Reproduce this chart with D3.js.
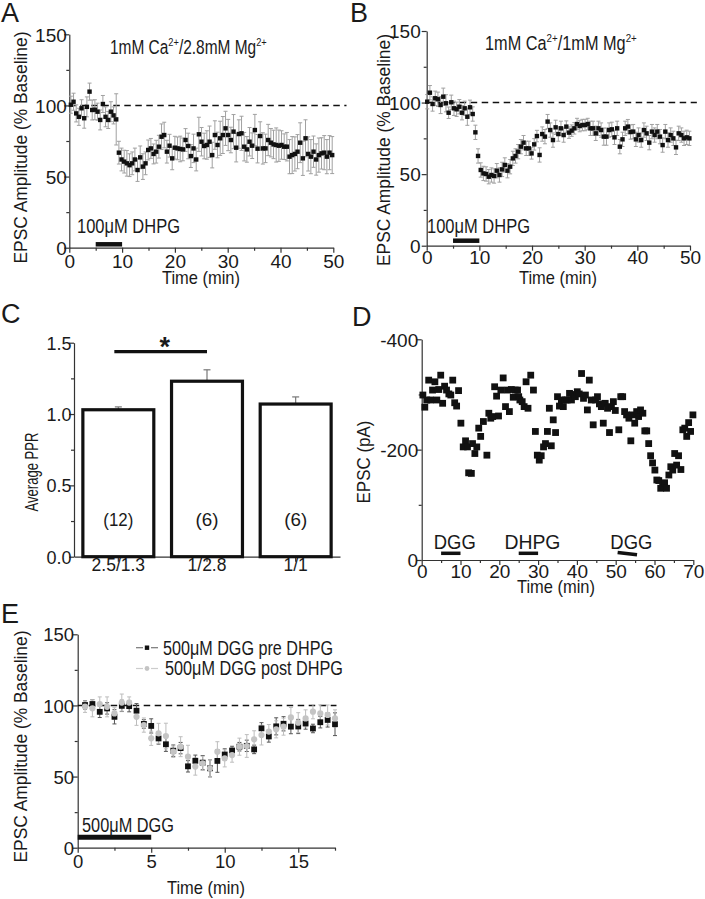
<!DOCTYPE html>
<html><head><meta charset="utf-8">
<script src="https://cdn.jsdelivr.net/npm/d3@7"></script>
<style>
body{margin:0;background:#fff}
svg{display:block}
text{font-family:"Liberation Sans",Arial,Helvetica,sans-serif}
</style></head>
<body><svg id="c" width="705" height="899"></svg>
<script>
// ---------------- DATA ----------------
// Panel A: 1mM Ca2+/2.8mM Mg2+ (mean, SEM), sampled every ~0.5 min
const aValues = [100.5,102.6,94.4,92,98,91,99,109.7,96.8,97,
 95.6,89.8,101,92,89.8,95.6,93,90.2,66.8,62,
 60.5,59.3,58,59.3,62,54.6,63.5,57,59.3,68.7,
 69.8,65.9,67.5,71,78,79.2,67.5,71.7,62.8,70.3,
 69.8,69.4,69.1,75.7,71.5,64.4,69.8,62,79.7,74.5,
 71.5,72.2,74.5,65.1,79.2,72.2,76.9,79.2,83.9,79.2,
 75.7,81.6,70.3,79.9,80.4,71,69.1,74.5,71.7,82.7,
 69.6,78.5,69.8,69.8,75.7,73.8,72.6,72.2,71.7,72.2,
 71,71,64,65.1,65.9,67.5,73.8,62.8,76.9,65.9,
 64,67.5,62,65.1,66.3,66.8,64,66.8,65.1];
const aErrors = [6,6,6,6,6,7,7,6,7,7,6,7,6,7,6,7,6,18,
 8,8,8,9,8,8,8,8,8,9,8,7,
 7,7,8,8,9,9,8,8,8,8,
 8,9,8,8,9,8,10,8,12,10,
 9,10,11,9,10,9,12,13,12,11,
 9,12,10,10,12,10,9,10,9,11,
 10,10,11,10,11,10,10,12,11,10,
 9,10,12,13,12,12,14,12,13,12,
 12,11,11,12,11,12,12,12,13];
// Panel B: 1mM Ca2+/1mM Mg2+
const bValues = [100.6,106.9,99,103,102.3,98.3,104.1,99.5,92.9,100.2,
 96,95.3,97.1,92.9,96,90.1,96.7,92,79.2,62.7,
 52.9,50.5,50.1,48.2,49.4,48.7,52.4,49.4,53.3,56.4,
 52.4,55.2,61,62.7,65.7,69.2,72,68,68,64.5,
 70.8,76.6,63.4,78,76.2,86.7,80.8,73.8,82.7,78,
 82,77.3,83.2,79,80.4,82,85,83.6,84.3,84.3,
 85,82,82,78.5,82,80.8,76.2,76.2,80.8,81.3,
 75.7,82,69.2,74.3,82,83.2,79.4,79.7,74.3,77.3,
 73.8,80.8,78.5,72,79.7,77.3,79.7,76.2,70.3,79.7,
 73.8,77.3,75,68.7,78.5,77.3,75,75.7,75];
const bErrors = [5,5,5,5,5,6,6,6,4,5,5,5,5,5,5,6,5,5,5,5,
 5,5,5,5,5,5,5,5,5,5,5,5,5,5,5,5,5,5,5,4,
 4,4,5,5,5,5,5,5,5,5,5,5,4,4,4,4,4,4,4,4,
 4,5,5,5,5,5,6,6,5,5,5,5,5,5,5,5,5,5,5,5,
 5,5,5,5,5,5,5,5,5,5,5,5,5,5,5,5,5,5,5];
// Panel C: average paired-pulse ratio
const cCategories = ["2.5/1.3","1/2.8","1/1"];
const cValues = [1.03,1.23,1.07];
const cErrors = [0.02,0.08,0.05];
const cN = ["(12)","(6)","(6)"];
// Panel D: single-cell EPSC time course
const dTime = [0.3,0.8,1.3,1.8,2.3,2.8,3.4,3.9,4.4,4.9,
 5.4,5.9,6.4,7.0,7.5,8.0,8.5,9.0,9.5,10.1,
 10.7,11.3,11.8,12.1,12.8,13.1,13.7,14.2,14.7,15.2,
 15.9,16.8,17.3,17.8,18.3,18.8,19.3,19.8,20.4,21.0,
 21.6,22.1,22.6,23.1,23.6,24.1,24.7,25.0,25.3,25.9,
 26.4,26.9,27.4,28.1,28.8,29.3,29.8,30.3,30.8,31.4,
 31.9,32.4,32.9,33.4,33.9,34.5,35.0,35.5,36.0,36.5,
 37.0,37.5,38.1,38.6,39.1,39.6,40.1,40.6,41.2,41.7,
 42.2,42.7,43.2,43.7,44.2,44.8,45.3,45.8,46.3,46.8,
 47.3,47.9,48.4,48.9,49.4,49.9,50.8,51.3,51.8,52.3,
 52.8,53.4,53.9,54.4,54.9,55.4,55.9,56.4,57.0,57.5,
 58.0,58.5,59.0,59.5,60.1,60.6,61.1,61.6,62.1,62.6,
 63.1,63.7,64.2,64.7,65.2,65.7,66.2,66.8,67.3,67.8,
 68.3,68.8,69.3,69.9];
const dEPSC = [-299,-277,-290,-326,-290,-308,-323,-290,-309,-335,
 -284,-315,-308,-301,-299,-326,-285,-279,-307,-248,
 -205,-216,-205,-158,-157,-211,-193,-205,-239,-224,
 -251,-190,-266,-257,-260,-314,-297,-261,-308,-330,
 -278,-308,-269,-309,-295,-308,-308,-296,-290,-287,
 -278,-323,-275,-335,-308,-233,-190,-181,-189,-205,
 -211,-233,-275,-207,-254,-231,-296,-279,-290,-278,
 -290,-290,-302,-290,-300,-296,-305,-301,-338,-293,
 -299,-272,-326,-290,-245,-290,-296,-283,-278,-248,
 -284,-275,-231,-278,-287,-271,-236,-296,-296,-269,
 -263,-257,-216,-263,-248,-269,-260,-272,-266,-234,
 -234,-211,-189,-176,-163,-145,-144,-130,-133,-140,
 -130,-154,-169,-163,-193,-172,-189,-164,-236,-239,
 -224,-249,-233,-263];
const dDrugs = [{label:"DGG",start:5,end:10},{label:"DHPG",start:25,end:30},{label:"DGG",start:50.5,end:55.5}];
// Panel E: 500uM DGG pre / post DHPG
const eSeries = ["500\u03bcM DGG pre DHPG","500\u03bcM DGG post DHPG"];
const ePre = [100.3,101,95.5,97.9,92,99.7,99.5,96.3,87,85.6,
 76.8,72.7,68.2,70,57.2,61.1,59.8,55.8,61,65.5,
 68.3,71,71.6,69.1,83.9,78.2,85.3,87.1,85.1,85.2,
 87.3,83.8,88.2,89.8,86.8];
const ePreErr = [3,3,4,4,5,4,4,5,3,5,4,5,4,4,4,4,5,6,8,4,3,3,4,3,4,4,6,5,5,5,4,3,4,5,8];
const ePost = [99.1,98,101,99,94.4,102,102,92,86.2,76.9,
 80.4,78.5,67.5,71,64,57,59.3,55.8,67.5,62.8,
 65.1,71,71.5,76.2,79.2,81.6,83.2,85.1,91.6,87.9,
 90.9,95.6,94.4,93.3,90.9];
const ePostErr = [4,6,5,7,4,6,4,6,5,5,7,9,4,7,8,6,5,6,7,6,5,6,8,6,7,5,6,6,7,7,6,5,6,7,6];

const aTime = d3.range(aValues.length).map(i => 0.3 + i*0.505);
const bTime = d3.range(bValues.length).map(i => 0.1 + i*0.508);
const eTime = d3.range(ePre.length).map(i => 0.5 + i*0.5);

// ---------------- DRAWING ----------------
const svg = d3.select('#c');
const INK = '#1a1a1a';

function styleAxis(g, fs) {
  g.select('.domain').attr('stroke', '#333').attr('stroke-width', 1.2);
  g.selectAll('.tick line').attr('stroke', '#333').attr('stroke-width', 1.2);
  g.selectAll('.tick text').attr('fill', INK).attr('font-size', fs)
   .attr('font-family', '"Liberation Sans",Arial,sans-serif');
}
function axes(x, y, o) {
  const yb = y.range()[0], xl = x.range()[0];
  if (o.xMinor) svg.append('g').attr('transform', `translate(0,${yb})`)
    .call(d3.axisBottom(x).tickValues(o.xMinor).tickSize(3).tickFormat(''))
    .call(g => { g.select('.domain').remove(); styleAxis(g, o.fs); });
  if (o.yMinor) svg.append('g').attr('transform', `translate(${xl},0)`)
    .call(d3.axisLeft(y).tickValues(o.yMinor).tickSize(3).tickFormat(''))
    .call(g => { g.select('.domain').remove(); styleAxis(g, o.fs); });
  const gx = svg.append('g').attr('transform', `translate(0,${yb})`)
    .call(d3.axisBottom(x).tickValues(o.xMajor).tickSize(5).tickSizeOuter(0).tickFormat(o.xFmt || (d => d)));
  styleAxis(gx, o.xfs || o.fs);
  gx.selectAll('.tick text').attr('y', o.xTextY).attr('dy', 0);
  const gy = svg.append('g').attr('transform', `translate(${xl},0)`)
    .call(d3.axisLeft(y).tickValues(o.yMajor).tickSize(5).tickSizeOuter(0).tickFormat(o.yFmt || (d => d)));
  styleAxis(gy, o.fs);
  gy.selectAll('.tick text').attr('x', -o.yGap).attr('dy', '0.36em');
}
function label(x, y, txt, fs, opts = {}) {
  const t = svg.append('text').attr('x', x).attr('y', y).attr('font-size', fs).attr('fill', INK)
    .attr('text-anchor', opts.anchor || 'start').text(txt);
  if (opts.len) t.attr('textLength', opts.len).attr('lengthAdjust', 'spacingAndGlyphs');
  if (opts.rotate) t.attr('transform', `rotate(-90,${x},${y})`);
  if (opts.bold) t.attr('font-weight', 'bold');
  return t;
}
// title with superscripts, horizontally condensed to a target length
function ionTitle(x, y, parts, fs, len) {
  const t = svg.append('text').attr('x', 0).attr('y', 0).attr('font-size', fs).attr('fill', INK);
  parts.forEach(p => {
    if (p.sup) t.append('tspan').attr('dy', -fs*0.42).attr('font-size', fs*0.6).text(p.sup);
    else t.append('tspan').attr('dy', p.after ? fs*0.42 : 0).attr('font-size', fs).text(p.t);
  });
  const w = t.node().getBBox().width || len;
  t.attr('transform', `translate(${x},${y}) scale(${len / w},1)`);
}
function errorBars(x, y, t, v, e, color, cap) {
  const g = svg.append('g').attr('stroke', color).attr('stroke-width', 1);
  v.forEach((val, i) => {
    const cx = x(t[i]), y1 = y(val - e[i]), y2 = y(val + e[i]);
    g.append('line').attr('x1', cx).attr('x2', cx).attr('y1', y1).attr('y2', y2);
    g.append('line').attr('x1', cx - cap/2).attr('x2', cx + cap/2).attr('y1', y1).attr('y2', y1);
    g.append('line').attr('x1', cx - cap/2).attr('x2', cx + cap/2).attr('y1', y2).attr('y2', y2);
  });
}
function squares(x, y, t, v, s, color) {
  svg.append('g').selectAll('rect').data(v).join('rect')
    .attr('x', (d, i) => x(t[i]) - s/2).attr('y', d => y(d) - s/2)
    .attr('width', s).attr('height', s).attr('fill', color);
}
function dashed(x, y, x0, x1, v) {
  svg.append('line').attr('x1', x(x0)).attr('x2', x(x1)).attr('y1', y(v)).attr('y2', y(v))
    .attr('stroke', '#111').attr('stroke-width', 1.6).attr('stroke-dasharray', '6.5,4.5');
}
function drugBar(x, yy, a, b, w) {
  svg.append('line').attr('x1', x(a)).attr('x2', x(b)).attr('y1', yy).attr('y2', yy)
    .attr('stroke', '#111').attr('stroke-width', w);
}

// ----- Panel A -----
{
  const x = d3.scaleLinear().domain([0, 50]).range([69.3, 333.3]);
  const y = d3.scaleLinear().domain([0, 150]).range([247.7, 34.3]);
  axes(x, y, {xMajor: [0,10,20,30,40,50], xMinor: [5,15,25,35,45], yMajor: [0,50,100,150], yMinor: [25,75,125], fs: 19, xTextY: 20.5, yGap: 2.5});
  dashed(x, y, 0, 52.5, 100);
  errorBars(x, y, aTime, aValues, aErrors, '#a0a0a0', 4);
  squares(x, y, aTime, aValues, 4.4, '#111');
  drugBar(x, 244.3, 5, 10, 4.5);
  label(77, 233, '100\u03bcM DHPG', 20, {len: 103});
  ionTitle(110, 54, [{t:'1mM Ca'},{sup:'2+'},{t:'/2.8mM Mg', after:true},{sup:'2+'}], 19.5, 157);
  label(21, 147.5, 'EPSC Amplitude (% Baseline)', 18.5, {anchor:'middle', rotate:true, len: 232}).attr('dy', '0.35em');
  label(201, 284, 'Time (min)', 19, {anchor:'middle', len: 78});
  label(1, 22, 'A', 27);
}
// ----- Panel B -----
{
  const x = d3.scaleLinear().domain([0, 50]).range([426.7, 690]);
  const y = d3.scaleLinear().domain([0, 150]).range([245.7, 31]);
  axes(x, y, {xMajor: [0,10,20,30,40,50], xMinor: [5,15,25,35,45], yMajor: [0,50,100,150], yMinor: [25,75,125], fs: 19, xTextY: 18, yGap: 6});
  dashed(x, y, 0, 51.3, 100);
  errorBars(x, y, bTime, bValues, bErrors, '#a0a0a0', 4);
  squares(x, y, bTime, bValues, 4.4, '#111');
  drugBar(x, 240.7, 5, 10, 4.5);
  label(427, 233, '100\u03bcM DHPG', 20, {len: 103});
  ionTitle(485, 50, [{t:'1mM Ca'},{sup:'2+'},{t:'/1mM Mg', after:true},{sup:'2+'}], 19.5, 152);
  label(384, 150, 'EPSC Amplitude (% Baseline)', 18.5, {anchor:'middle', rotate:true, len: 232}).attr('dy', '0.35em');
  label(558, 284, 'Time (min)', 19, {anchor:'middle', len: 78});
  label(350, 22, 'B', 27);
}
// ----- Panel C -----
{
  const x = d3.scaleBand().domain(cCategories).range([74, 340]).paddingInner(0.2).paddingOuter(0.1);
  const y = d3.scaleLinear().domain([0, 1.5]).range([556.7, 342.7]);
  axes(x, y, {xMajor: cCategories, yMajor: [0,0.5,1.0,1.5], yMinor: [0.25,0.75,1.25], fs: 18, xfs: 17.5, xTextY: 14, yGap: 2.5, yFmt: d3.format('.1f')});
  const g = svg.append('g');
  cCategories.forEach((c, i) => {
    const cx = x(c) + x.bandwidth()/2;
    g.append('line').attr('x1', cx).attr('x2', cx).attr('y1', y(cValues[i])).attr('y2', y(cValues[i] + cErrors[i]))
      .attr('stroke', '#777').attr('stroke-width', 1.2);
    g.append('line').attr('x1', cx - 3.5).attr('x2', cx + 3.5).attr('y1', y(cValues[i] + cErrors[i])).attr('y2', y(cValues[i] + cErrors[i]))
      .attr('stroke', '#777').attr('stroke-width', 1.2);
    g.append('rect').attr('x', x(c)).attr('y', y(cValues[i])).attr('width', x.bandwidth())
      .attr('height', y(0) - y(cValues[i])).attr('fill', '#fff').attr('stroke', '#111').attr('stroke-width', 3.2);
    label(cx, 526, cN[i], 18.5, {anchor:'middle', len: cN[i].length === 4 ? 30 : 23});
  });
  const x1 = x(cCategories[0]) + x.bandwidth()/2 - 4, x2 = x(cCategories[1]) + x.bandwidth()/2;
  svg.append('line').attr('x1', x1).attr('x2', x2).attr('y1', 351.7).attr('y2', 351.7).attr('stroke', '#111').attr('stroke-width', 3.2);
  label((x1 + x2)/2 + 4, 356, '*', 27, {anchor:'middle', bold:true});
  label(31, 472, 'Average PPR', 19, {anchor:'middle', rotate:true, len: 79}).attr('dy', '0.35em');
  label(1, 323, 'C', 27);
}
// ----- Panel D -----
{
  const x = d3.scaleLinear().domain([0, 70]).range([421.7, 693.3]);
  const y = d3.scaleLinear().domain([0, -400]).range([560, 339.3]);
  axes(x, y, {xMajor: [0,10,20,30,40,50,60,70], xMinor: [5,15,25,35,45,55,65], yMajor: [-400,-200,0], yMinor: [-300,-100], fs: 19, xTextY: 17.5, yGap: 3.5, yFmt: d => String(d)});
  squares(x, y, dTime, dEPSC, 6.8, '#111');
  dDrugs.forEach((d, i) => {
    const slant = i === 2 ? 1.5 : 0;
    svg.append('line').attr('x1', x(d.start)).attr('x2', x(d.end)).attr('y1', 553.3 - slant/2).attr('y2', 553.3 + slant)
      .attr('stroke', '#111').attr('stroke-width', 3.5);
    label(x((d.start + d.end)/2) + 4, 548.5, d.label, 19.5, {anchor:'middle', len: d.label.length === 3 ? 42 : 56});
  });
  label(363, 462, 'EPSC (pA)', 19, {anchor:'middle', rotate:true, len: 83}).attr('dy', '0.35em');
  label(556, 593, 'Time (min)', 19, {anchor:'middle', len: 78});
  label(352, 326, 'D', 27);
}
// ----- Panel E -----
{
  const x = d3.scaleLinear().domain([0, 17.5]).range([77.7, 335]);
  const y = d3.scaleLinear().domain([0, 150]).range([847.7, 634.3]);
  axes(x, y, {xMajor: [0,5,10,15], xMinor: [2.5,7.5,12.5,17.5], yMajor: [0,50,100,150], yMinor: [25,75,125], fs: 18.5, xTextY: 20, yGap: 3.7});
  dashed(x, y, 0, 17.6, 100);
  errorBars(x, y, eTime, ePre, ePreErr, '#555', 4);
  errorBars(x, y, eTime, ePost, ePostErr, '#bdbdbd', 4);
  squares(x, y, eTime, ePre, 5.8, '#111');
  svg.append('g').selectAll('circle').data(ePost).join('circle')
    .attr('cx', (d, i) => x(eTime[i])).attr('cy', d => y(d)).attr('r', 3.1)
    .attr('fill', '#c4c4c4');
  drugBar(x, 837.3, 0, 5, 5);
  label(82, 832, '500\u03bcM DGG', 20, {len: 92});
  // legend
  const lg = svg.append('g');
  [[647.7, '#777', 'sq'], [668.5, '#ccc', 'ci']].forEach(([ly, c, sym], i) => {
    lg.append('line').attr('x1', 136).attr('x2', 143).attr('y1', ly).attr('y2', ly).attr('stroke', c).attr('stroke-width', 1.2);
    lg.append('line').attr('x1', 151).attr('x2', 158).attr('y1', ly).attr('y2', ly).attr('stroke', c).attr('stroke-width', 1.2);
    if (sym === 'sq') lg.append('rect').attr('x', 144.8).attr('y', ly - 2.2).attr('width', 4.4).attr('height', 4.4).attr('fill', '#111');
    else lg.append('circle').attr('cx', 147).attr('cy', ly).attr('r', 2.4).attr('fill', '#c4c4c4');
    label(i === 0 ? 163 : 165, ly + 6.8, eSeries[i], 19.5, {len: i === 0 ? 170 : 178});
  });
  label(21, 746.5, 'EPSC Amplitude (% Baseline)', 18.5, {anchor:'middle', rotate:true, len: 232}).attr('dy', '0.35em');
  label(206, 894, 'Time (min)', 19, {anchor:'middle', len: 78});
  label(1, 623, 'E', 27);
}
</script></body></html>
